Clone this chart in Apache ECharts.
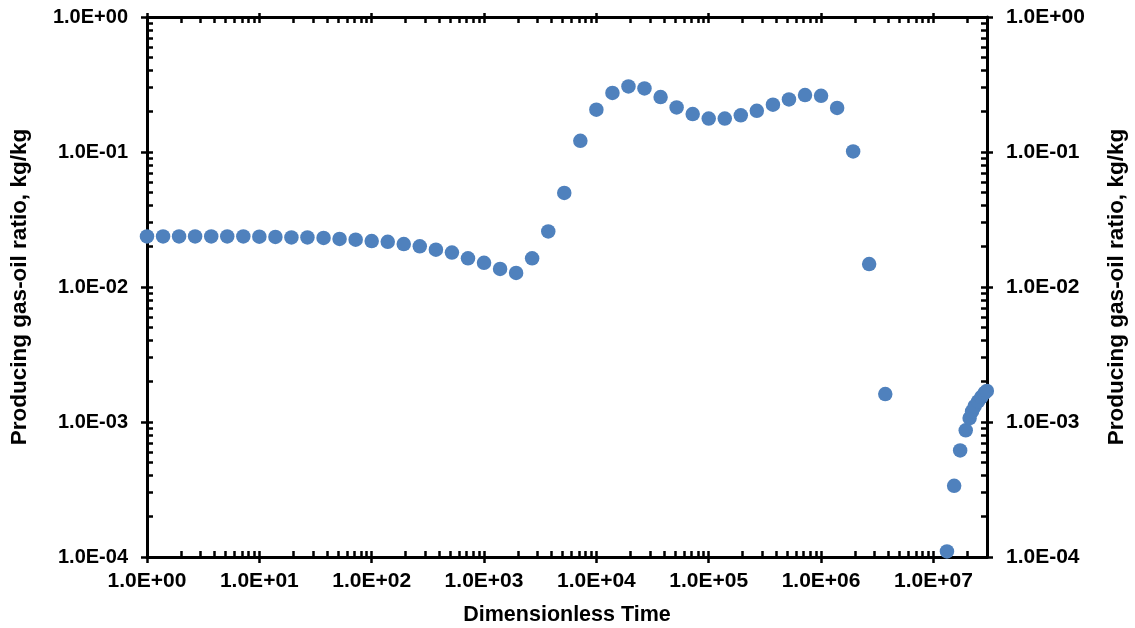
<!DOCTYPE html>
<html>
<head>
<meta charset="utf-8">
<script src="https://cdn.jsdelivr.net/npm/echarts@6/dist/echarts.min.js"></script>
<style>
html,body{margin:0;padding:0;background:#fff;}
#chart{width:1135px;height:628px;}
</style>
</head>
<body>
<div id="chart"></div>
<script>
// Dimensionless time (x) values
const times = [
  1, 1.39, 1.93, 2.68, 3.73, 5.18, 7.2,
  10, 13.9, 19.3, 26.8, 37.3, 51.8, 72,
  100, 139, 193, 268, 373, 518, 720,
  1000, 1390, 1930, 2680, 3730, 5180, 7200,
  10000, 13900, 19300, 26800, 37300, 51800, 72000,
  100000, 139000, 193000, 268000, 373000, 518000, 720000,
  1000000, 1390000, 1930000, 2680000, 3730000,
  13200000, 15300000, 17300000, 19400000, 21000000, 22100000, 23300000, 25000000, 26700000, 28600000, 29900000
];
// Producing gas-oil ratio (kg/kg)
const gor = [
  0.0237, 0.0237, 0.0237, 0.0237, 0.0237, 0.0237, 0.0237,
  0.0236, 0.0235, 0.0233, 0.0233, 0.0231, 0.0227, 0.0224,
  0.0219, 0.0216, 0.0208, 0.0200, 0.0189, 0.0180, 0.0163,
  0.0151, 0.0136, 0.0127, 0.0163, 0.0258, 0.0497, 0.121,
  0.206, 0.274, 0.306, 0.296, 0.255, 0.214, 0.191,
  0.177, 0.177, 0.187, 0.202, 0.224, 0.245, 0.264,
  0.261, 0.212, 0.101, 0.0148, 0.00161,
  0.000110, 0.000337, 0.000616, 0.000867, 0.00107, 0.00120, 0.00131, 0.00142, 0.00153, 0.00164, 0.00170
];

const xMajor = [1, 10, 100, 1000, 10000, 100000, 1000000, 10000000];
const xTickLabels = ['1.0E+00','1.0E+01','1.0E+02','1.0E+03','1.0E+04','1.0E+05','1.0E+06','1.0E+07'];
const xMinor = [
  2,3,4,5,6,7,8,9, 20,30,40,50,60,70,80,90, 200,300,400,500,600,700,800,900,
  2000,3000,4000,5000,6000,7000,8000,9000, 20000,30000,40000,50000,60000,70000,80000,90000,
  200000,300000,400000,500000,600000,700000,800000,900000,
  2000000,3000000,4000000,5000000,6000000,7000000,8000000,9000000, 20000000,30000000
];
const yMajor = [0.0001, 0.001, 0.01, 0.1, 1];
const yTickLabels = ['1.0E-04','1.0E-03','1.0E-02','1.0E-01','1.0E+00'];
const yMinor = [
  0.0002,0.0003,0.0004,0.0005,0.0006,0.0007,0.0008,0.0009,
  0.002,0.003,0.004,0.005,0.006,0.007,0.008,0.009,
  0.02,0.03,0.04,0.05,0.06,0.07,0.08,0.09,
  0.2,0.3,0.4,0.5,0.6,0.7,0.8,0.9
];

const xMin = 1, xMax = 30000000, yMin = 0.0001, yMax = 1;
const FONT = '"Liberation Sans", Arial, sans-serif';

function labelFor(majors, labels) {
  return function (v) {
    for (let i = 0; i < majors.length; i++) {
      if (Math.abs(Math.log10(v) - Math.log10(majors[i])) < 1e-6) return labels[i];
    }
    return '';
  };
}
const lineStyle = { color: '#000', width: 3 };

function xAx(pos, showLine, showLabel, ticks, inside, len, extra) {
  return Object.assign({
    type: 'log', logBase: 10, min: xMin, max: xMax, position: pos,
    axisLine: { show: showLine, lineStyle: lineStyle },
    axisTick: { show: true, inside: inside, length: len, customValues: ticks, lineStyle: { color: '#000', width: 2.5 } },
    axisLabel: { show: showLabel, customValues: xMajor, formatter: labelFor(xMajor, xTickLabels),
      fontFamily: FONT, fontWeight: 'bold', fontSize: 21, color: '#000', margin: 14 },
    splitLine: { show: false }, minorTick: { show: false }, minorSplitLine: { show: false }
  }, extra || {});
}
function yAx(pos, showLine, showLabel, ticks, inside, len, fs, extra) {
  return Object.assign({
    type: 'log', logBase: 10, min: yMin, max: yMax, position: pos,
    axisLine: { show: showLine, lineStyle: lineStyle },
    axisTick: { show: true, inside: inside, length: len, customValues: ticks, lineStyle: { color: '#000', width: 2.5 } },
    axisLabel: { show: showLabel, customValues: yMajor, formatter: labelFor(yMajor, yTickLabels),
      fontFamily: FONT, fontWeight: 'bold', fontSize: fs, color: '#000', margin: 19 },
    splitLine: { show: false }, minorTick: { show: false }, minorSplitLine: { show: false }
  }, extra || {});
}

const xNameStyle = { fontFamily: FONT, fontWeight: 'bold', fontSize: 21.5, color: '#000' };
const yNameStyle = { fontFamily: FONT, fontWeight: 'bold', fontSize: 22.5, color: '#000' };

const option = {
  animation: false,
  backgroundColor: '#fff',
  grid: { left: 147, right: 148, top: 17, bottom: 71, containLabel: false, outerBoundsMode: 'none' },
  xAxis: [
    xAx('bottom', true, true, xMajor, false, 6, {
      name: 'Dimensionless Time', nameLocation: 'middle', nameGap: 47, nameTextStyle: xNameStyle }),
    xAx('bottom', false, false, xMajor.concat(xMinor), true, 6),
    xAx('top', true, false, xMajor, false, 4),
    xAx('top', false, false, xMajor.concat(xMinor), true, 6)
  ],
  yAxis: [
    yAx('left', true, true, yMajor, false, 6, 20, {
      name: 'Producing gas-oil ratio, kg/kg', nameLocation: 'middle', nameRotate: 90, nameGap: 116, nameTextStyle: yNameStyle }),
    yAx('left', false, false, yMajor.concat(yMinor), true, 6, 20),
    yAx('right', true, true, yMajor, false, 6, 21, {
      name: 'Producing gas-oil ratio, kg/kg', nameLocation: 'middle', nameRotate: 90, nameGap: 118, nameTextStyle: yNameStyle }),
    yAx('right', false, false, yMajor.concat(yMinor), true, 6, 21)
  ],
  series: [{
    type: 'scatter',
    xAxisIndex: 0, yAxisIndex: 0,
    symbol: 'circle', symbolSize: 14.5,
    itemStyle: { color: '#4F81BD', opacity: 1 },
    data: times.map((t, i) => [t, gor[i]]),
    clip: false
  }]
};

const chart = echarts.init(document.getElementById('chart'), null, { renderer: 'canvas' });
chart.setOption(option);
</script>
</body>
</html>
